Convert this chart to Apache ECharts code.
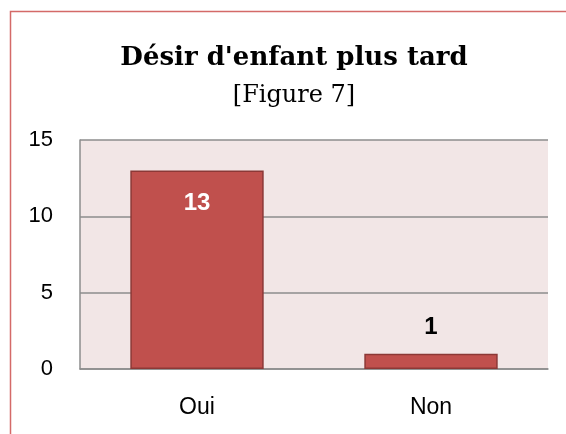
<!DOCTYPE html>
<html>
<head>
<meta charset="UTF-8">
<title>Désir d'enfant plus tard</title>
<style>
html,body{margin:0;padding:0;background:#fff;}
#main{width:566px;height:434px;}
</style>
</head>
<body>
<div id="main"></div>
<script src="https://cdn.jsdelivr.net/npm/echarts@6/dist/echarts.min.js"></script>
<script type="text/javascript">
// données
var categories = ['Oui', 'Non'];
var values = [13, 1];
var yTicks = [0, 5, 10, 15];

var myChart = echarts.init(document.getElementById('main'));

var barData = [];
for (var i = 0; i < values.length; i++) {
	var inside = values[i] > 5;
	barData.push({
		value: values[i],
		label: {
			position: inside ? 'insideTop' : 'top',
			distance: inside ? 21 : 14,
			color: inside ? '#ffffff' : '#000000'
		}
	});
}

myChart.setOption({
	animation: false,
	title: {
		text: "Désir d'enfant plus tard",
		subtext: '[Figure 7]',
		left: 289,
		textAlign: 'center',
		top: 40,
		itemGap: 13,
		textStyle: {
			fontFamily: 'DejaVu Serif',
			fontWeight: 'bold',
			fontSize: 26,
			color: '#000'
		},
		subtextStyle: {
			fontFamily: 'DejaVu Serif',
			fontSize: 24,
			color: '#000'
		}
	},
	graphic: [{
		type: 'rect',
		shape: {x: 10.5, y: 11.5, width: 620, height: 500},
		style: {fill: 'none', stroke: '#d46a68', lineWidth: 1.5},
		silent: true
	}],
	grid: {
		left: 80, top: 140, right: 18, bottom: 65,
		show: true,
		backgroundColor: '#f2e6e6',
		borderWidth: 0
	},
	xAxis: {
		type: 'category',
		data: categories,
		axisLine: {show: true, lineStyle: {color: '#8c8c8c', width: 1.5}},
		axisTick: {show: false},
		axisLabel: {
			margin: 27,
			fontFamily: 'Liberation Sans',
			fontSize: 23,
			color: '#000'
		}
	},
	yAxis: {
		type: 'value',
		min: yTicks[0],
		max: yTicks[yTicks.length - 1],
		interval: 5,
		axisLine: {show: true, lineStyle: {color: '#8c8c8c', width: 1.5}},
		axisTick: {show: false},
		splitLine: {show: true, lineStyle: {color: '#8c8c8c', width: 1.5}},
		axisLabel: {
			margin: 27,
			fontFamily: 'Liberation Sans',
			fontSize: 22,
			color: '#000'
		}
	},
	series: [{
		type: 'bar',
		data: barData,
		barWidth: '57%',
		itemStyle: {
			color: '#c0504d',
			borderColor: '#8c3836',
			borderWidth: 1.5
		},
		label: {
			show: true,
			fontFamily: 'Liberation Sans',
			fontWeight: 'bold',
			fontSize: 24
		}
	}]
});
</script>
</body>
</html>
